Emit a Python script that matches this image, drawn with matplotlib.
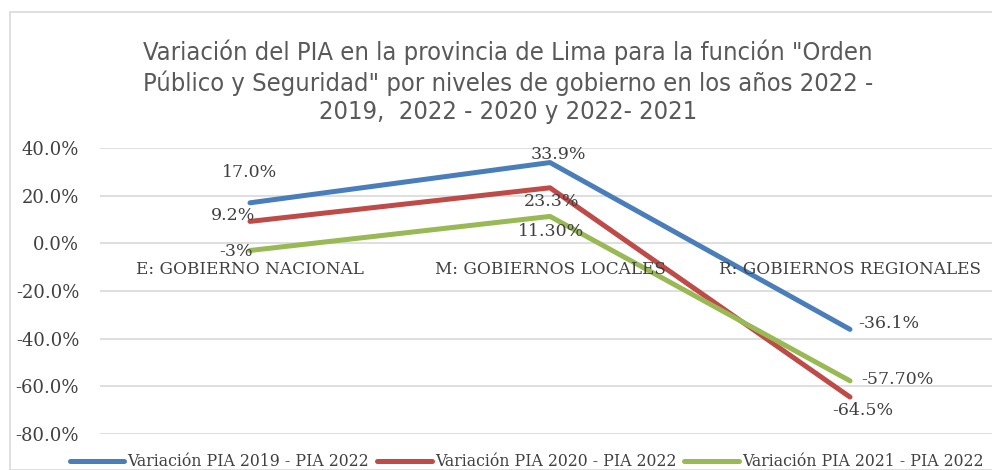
import matplotlib.pyplot as plt
from matplotlib import font_manager
from matplotlib.patches import Rectangle
from matplotlib.ticker import PercentFormatter

categorias = ["E: GOBIERNO NACIONAL", "M: GOBIERNOS LOCALES", "R: GOBIERNOS REGIONALES"]
var_2019 = [0.170, 0.339, -0.361]
var_2020 = [0.092, 0.233, -0.645]
var_2021 = [-0.030, 0.113, -0.577]
etiq_2019 = ["17.0%", "33.9%", "-36.1%"]
etiq_2020 = ["9.2%", "23.3%", "-64.5%"]
etiq_2021 = ["-3%", "11.30%", "-57.70%"]
series = ["Variación PIA 2019 - PIA 2022", "Variación PIA 2020 - PIA 2022",
          "Variación PIA 2021 - PIA 2022"]

SERIF = "DejaVu Serif"
TXT = "#404040"
plt.rcParams["axes.unicode_minus"] = False

# narrow font for the title, if one is around
nombres = {f.name for f in font_manager.fontManager.ttflist}
condensadas = [f for f in font_manager.fontManager.ttflist
               if f.name == "DejaVu Sans" and f.stretch in ("condensed", 400)]
if "Liberation Sans Narrow" in nombres:
    tit_kw = dict(family="Liberation Sans Narrow", fontsize=18.8)
elif condensadas:
    tit_kw = dict(family="DejaVu Sans", fontstretch="condensed", fontsize=18.3)
else:
    tit_kw = dict(family="DejaVu Sans", fontsize=16.5)

fig = plt.figure(figsize=(9.92, 4.70), dpi=100)
fig.patches.append(Rectangle((10/992, 0), 1.1, 1 - 12/470, transform=fig.transFigure,
                             fill=False, edgecolor="#d9d9d9", linewidth=1.2))

ax = fig.add_axes([100/992, 1 - 434/470, 900/992, (434 - 148)/470])
x = range(len(categorias))
ax.plot(x, var_2019, color="#4a7ebb", lw=3.6, solid_capstyle="round", label=series[0])
ax.plot(x, var_2020, color="#be4b48", lw=3.6, solid_capstyle="round", label=series[1])
ax.plot(x, var_2021, color="#98b954", lw=3.6, solid_capstyle="round", label=series[2])

ax.set_xlim(-0.5, 2.5)
ax.set_ylim(-0.8, 0.4)
ax.set_yticks([0.4, 0.2, 0.0, -0.2, -0.4, -0.6, -0.8])
ax.yaxis.set_major_formatter(PercentFormatter(1.0, decimals=1))
ax.set_xticks([])
ax.tick_params(axis="y", length=0, pad=15, labelsize=13, labelcolor=TXT)
for lbl in ax.get_yticklabels():
    lbl.set_fontfamily(SERIF)
ax.grid(axis="y", color="#d9d9d9", lw=1.2)
ax.set_axisbelow(True)
for s in ax.spines.values():
    s.set_visible(False)

for i, c in enumerate(categorias):
    ax.annotate(c, (i, 0), xytext=(0, -19), textcoords="offset points", ha="center",
                va="center", fontsize=12.2, family=SERIF, color=TXT)

kw = dict(textcoords="offset points", fontsize=12.5, family=SERIF, color=TXT, va="center")
# 2019
ax.annotate(etiq_2019[0], (0, var_2019[0]), xytext=(0, 22), ha="center", **kw)
ax.annotate(etiq_2019[1], (1, var_2019[1]), xytext=(6, 6), ha="center", **kw)
ax.annotate(etiq_2019[2], (2, var_2019[2]), xytext=(6, 4), ha="left", **kw)
# 2020
ax.annotate(etiq_2020[0], (0, var_2020[0]), xytext=(4, 4), ha="right", **kw)
ax.annotate(etiq_2020[1], (1, var_2020[1]), xytext=(1, -10), ha="center", **kw)
ax.annotate(etiq_2020[2], (2, var_2020[2]), xytext=(9, -10), ha="center", **kw)
# 2021
ax.annotate(etiq_2021[0], (0, var_2021[0]), xytext=(2, -1), ha="right", **kw)
ax.annotate(etiq_2021[1], (1, var_2021[1]), xytext=(1, -11), ha="center", **kw)
ax.annotate(etiq_2021[2], (2, var_2021[2]), xytext=(8, 1), ha="left", **kw)

fig.text(0.512, 1 - 82/470,
         "Variación del PIA en la provincia de Lima para la función \"Orden\n"
         "Público y Seguridad\" por niveles de gobierno en los años 2022 -\n"
         "2019,  2022 - 2020 y 2022- 2021",
         ha="center", va="center", color="#595959", linespacing=1.25, **tit_kw)

fig.legend(loc="center", bbox_to_anchor=(0.531, 1 - 462/470), ncol=3, frameon=False,
           handlelength=3.5, columnspacing=0.5, handletextpad=0.2,
           prop={"family": SERIF, "size": 11.3}, labelcolor=TXT)

fig.savefig("out.png", dpi=100)
